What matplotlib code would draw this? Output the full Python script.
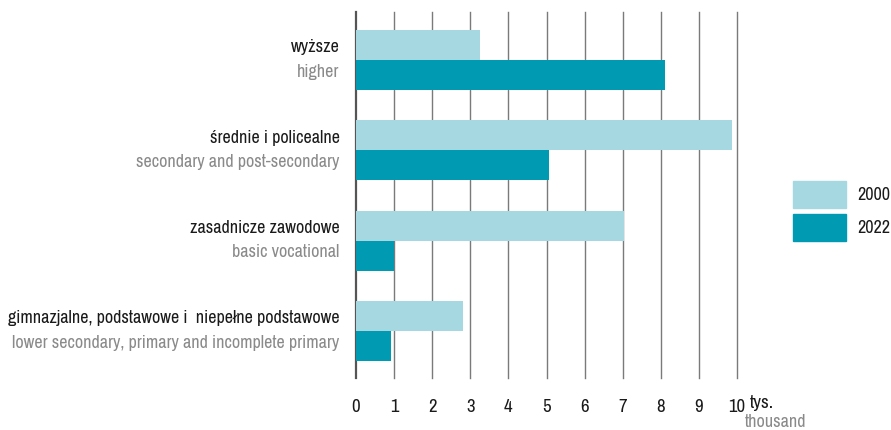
import matplotlib
matplotlib.use("Agg")
import matplotlib.pyplot as plt
from matplotlib import font_manager as fm
from matplotlib.patches import Rectangle

entries = fm.fontManager.ttflist
names = sorted({f.name for f in entries})
cond_fams = [n for n in names if ("Condensed" in n or "Narrow" in n)]
STRETCH = "normal"
if cond_fams:
    FONT = cond_fams[0]
elif any(f.name == "DejaVu Sans" and str(f.stretch) in ("condensed", "semi-condensed") for f in entries):
    FONT = "DejaVu Sans"
    STRETCH = "condensed"
else:
    FONT = "Roboto"
plt.rcParams['font.family'] = [FONT, 'DejaVu Sans']
plt.rcParams['font.stretch'] = STRETCH

categories_pl = ["gimnazjalne, podstawowe i  niepełne podstawowe",
                 "zasadnicze zawodowe",
                 "średnie i policealne",
                 "wyższe"]
categories_en = ["lower secondary, primary and incomplete primary",
                 "basic vocational",
                 "secondary and post-secondary",
                 "higher"]
values_2000 = [2.8, 7.04, 9.87, 3.26]
values_2022 = [0.92, 1.0, 5.06, 8.12]
series_labels = ["2000", "2022"]
xticks = list(range(0, 11))

C2000 = "#A6D8E2"
C2022 = "#009AB3"
GRID = "#7a7a7a"

fig = plt.figure(figsize=(8.91, 4.30), dpi=100)

# fit font size so that the longest label spans like the reference
renderer = fig.canvas.get_renderer()
probe = fig.text(0, 0, categories_en[0], fontsize=10)
w10 = probe.get_window_extent(renderer).width
probe.remove()
FS = min(13, 10 * 337 / w10)

ax = fig.add_axes([356/891, 1-378/430, (737-356)/891, (378-12)/430])

h = 0.332
pos = list(range(len(categories_pl)))
ax.barh([p + h/2 for p in pos], values_2000, height=h, color=C2000, zorder=3)
ax.barh([p - h/2 for p in pos], values_2022, height=h, color=C2022, zorder=3)

ax.set_xlim(0, 10)
ax.set_ylim(-0.52, 3.533)
for x in xticks:
    ax.axvline(x, color="#555555" if x == 0 else GRID,
               lw=1.6 if x == 0 else 1.0, zorder=2, clip_on=False)
for s in ax.spines.values():
    s.set_visible(False)
ax.set_yticks([])
ax.set_xticks(xticks)
ax.set_xticklabels([str(t) for t in xticks], fontsize=FS + 0.5, color="#1a1a1a")
ax.tick_params(axis="x", length=0, pad=15)

tr = ax.get_yaxis_transform()
for p, pl, en in zip(pos, categories_pl, categories_en):
    ax.text(-0.043, p + 0.14, pl, transform=tr, ha="right", va="center",
            fontsize=FS, color="#1a1a1a")
    ax.text(-0.043, p - 0.13, en, transform=tr, ha="right", va="center",
            fontsize=FS, color="#8a8a8a")

# unit label
fig.text(750/891, 1-403/430, "tys.", ha="left", va="center", fontsize=FS + 0.5, color="#1a1a1a")
fig.text(745/891, 1-422/430, "thousand", ha="left", va="center", fontsize=FS, color="#8a8a8a")

# legend
for i, (lab, col) in enumerate(zip(series_labels, [C2000, C2022])):
    y0 = 181 + i*33
    fig.patches.append(Rectangle((793/891, 1-(y0+27)/430), 53/891, 27/430,
                                 transform=fig.transFigure, color=col))
    fig.text(857/891, 1-(y0+13.5)/430, lab, ha="left", va="center",
             fontsize=FS, color="#1a1a1a")

fig.savefig("out.png", dpi=100)
